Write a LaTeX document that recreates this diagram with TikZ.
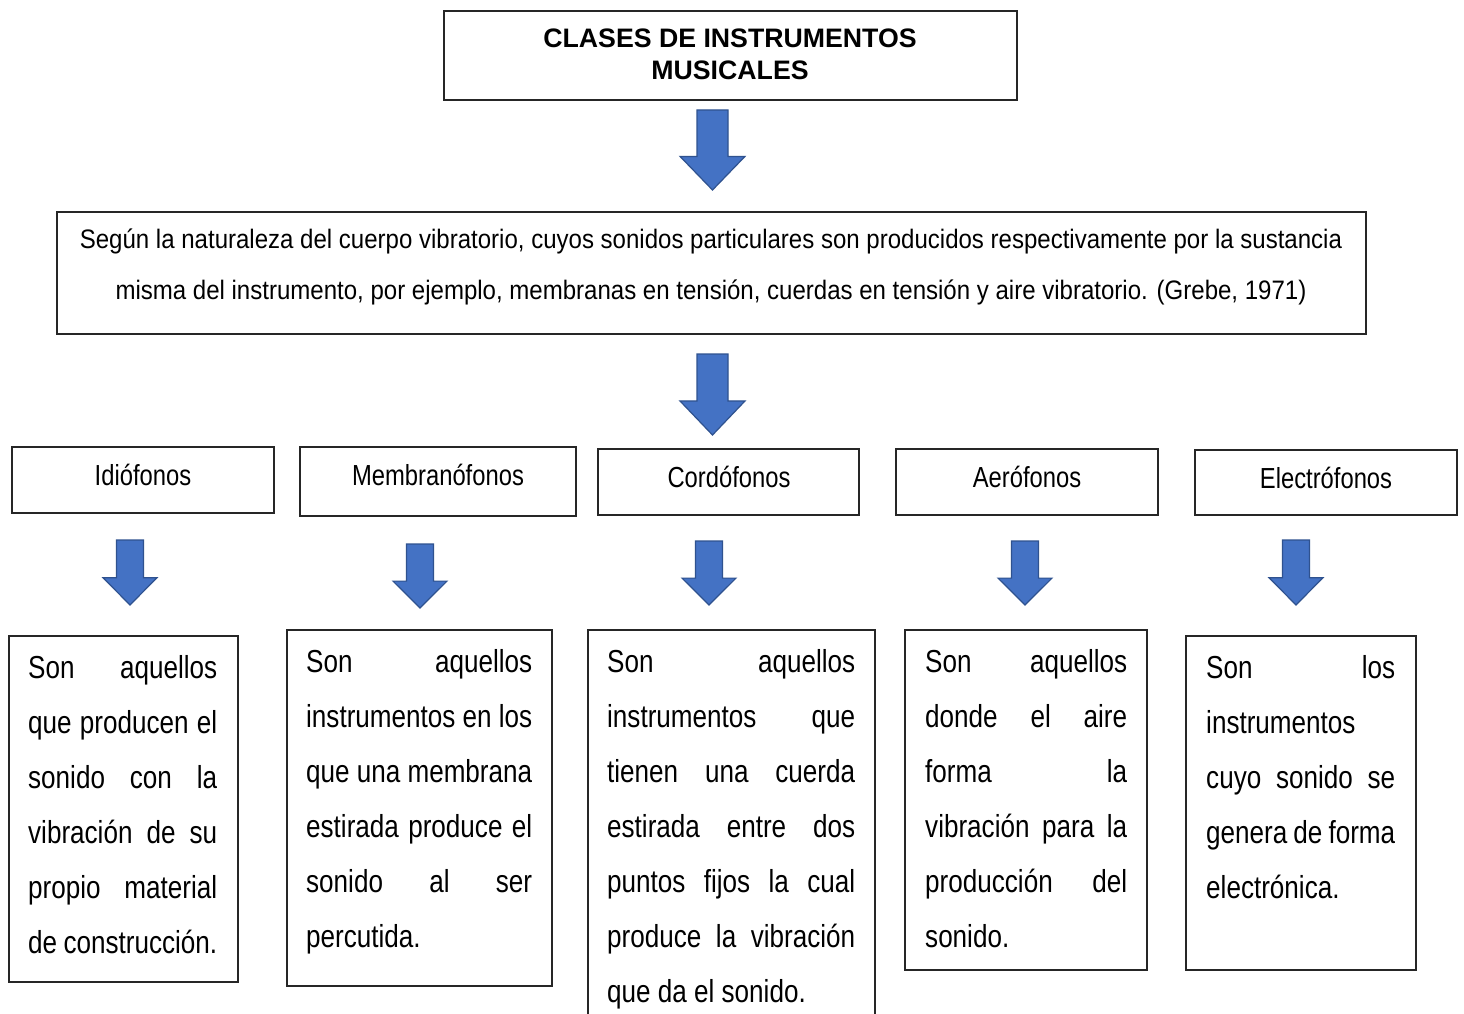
\documentclass[tikz,border=0pt]{standalone}
\usepackage{fontspec}
\setmainfont{Liberation Sans}[FakeStretch=0.82]
\newfontfamily\titlefont{Liberation Sans}
\newfontfamily\midfont{Liberation Sans}[FakeStretch=0.9]
\definecolor{arrowfill}{HTML}{4472C4}
\definecolor{arrowline}{HTML}{2F528F}
\newcommand\jl[1]{\makebox[\linewidth][s]{#1}\par}
\newcommand\blockarrow[5]{% cx, ytop, headwidth, shaftwidth, height
  \fill[arrowfill,draw=arrowline,line width=1.2pt,line join=miter]
  ({#1-#4/2},#2) -- ({#1+#4/2},#2) -- ({#1+#4/2},{#2+#5*0.58}) -- ({#1+#3/2},{#2+#5*0.58})
  -- (#1,{#2+#5}) -- ({#1-#3/2},{#2+#5*0.58}) -- ({#1-#4/2},{#2+#5*0.58}) -- cycle;}
\begin{document}
\begin{tikzpicture}[x=1pt,y=-1pt,
  box/.style={draw=black!85,line width=1.2pt},
  cat/.style={font=\fontsize{29}{31}\selectfont,inner sep=0pt},
  desc/.style={inner sep=0pt,anchor=base west}]
\useasboundingbox (0,0) rectangle (1464,1014);
\fill[white] (0,0) rectangle (1464,1014);
% title
\draw[box] (444,11) rectangle (1017,100);
\node[inner sep=0pt,align=center,font=\titlefont\bfseries\fontsize{26.7}{32}\selectfont] (title) at (730,54) {CLASES DE INSTRUMENTOS\\MUSICALES};
\blockarrow{712.5}{110}{65}{31}{80}
% middle
\draw[box] (57,212) rectangle (1366,334);
\node[inner sep=0pt,align=center,font=\midfont\fontsize{26.7}{51}\selectfont] (mid) at (711,267) {Según la naturaleza del cuerpo vibratorio, cuyos sonidos particulares son producidos respectivamente por la sustancia\\misma del instrumento, por ejemplo, membranas en tensión, cuerdas en tensión y aire vibratorio. (Grebe, 1971)};
\blockarrow{712.5}{354}{65}{31}{81}
% categories
\draw[box] (12,447) rectangle (274,513);
\node[cat] (idio) at (143,475) {Idiófonos};
\draw[box] (300,447) rectangle (576,516);
\node[cat] (memb) at (438,475) {Membranófonos};
\draw[box] (598,449) rectangle (859,515);
\node[cat] (cord) at (729,477) {Cordófonos};
\draw[box] (896,449) rectangle (1158,515);
\node[cat] (aero) at (1027,477) {Aerófonos};
\draw[box] (1195,450) rectangle (1457,515);
\node[cat] (elec) at (1326,478) {Electrófonos};
% small arrows
\blockarrow{130}{540}{54}{27}{65}
\blockarrow{420}{544}{54}{27}{64}
\blockarrow{709}{541}{54}{27}{64}
\blockarrow{1025}{541}{54}{27}{64}
\blockarrow{1296}{540}{54}{27}{65}
% descriptions
\draw[box] (9,636) rectangle (238,982);
\node[desc] (d1) at (28,678) {\parbox[t]{189pt}{\fontsize{31.8}{55}\selectfont\parindent0pt
\jl{Son aquellos}\jl{que producen el}\jl{sonido con la}\jl{vibración de su}\jl{propio material}\jl{de construcción.}}};
\draw[box] (287,630) rectangle (552,986);
\node[desc] (d2) at (306,672) {\parbox[t]{226pt}{\fontsize{31.8}{55}\selectfont\parindent0pt
\jl{Son aquellos}\jl{instrumentos en los}\jl{que una membrana}\jl{estirada produce el}\jl{sonido al ser}percutida.}};
\draw[box] (588,1030) -- (588,630) -- (875,630) -- (875,1030);
\node[desc] (d3) at (607,672) {\parbox[t]{248pt}{\fontsize{31.8}{55}\selectfont\parindent0pt
\jl{Son aquellos}\jl{instrumentos que}\jl{tienen una cuerda}\jl{estirada entre dos}\jl{puntos fijos la cual}\jl{produce la vibración}que da el sonido.}};
\draw[box] (905,630) rectangle (1147,970);
\node[desc] (d4) at (925,672) {\parbox[t]{202pt}{\fontsize{31.8}{55}\selectfont\parindent0pt
\jl{Son aquellos}\jl{donde el aire}\jl{forma la}\jl{vibración para la}\jl{producción del}sonido.}};
\draw[box] (1186,636) rectangle (1416,970);
\node[desc] (d5) at (1206,678) {\parbox[t]{189pt}{\fontsize{31.8}{55}\selectfont\parindent0pt
\jl{Son los}instrumentos\par\jl{cuyo sonido se}\jl{genera de forma}electrónica.}};
\end{tikzpicture}
\end{document}
